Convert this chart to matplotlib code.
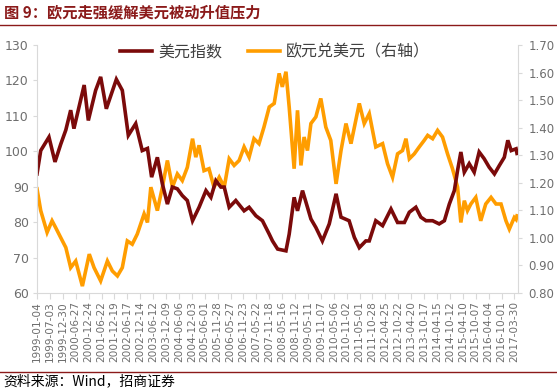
import matplotlib
matplotlib.use("Agg")
import matplotlib.pyplot as plt
import pandas as pd

plt.rcParams['font.family'] = ['Noto Sans CJK SC', 'DejaVu Sans']

# ---- data ----
dxy_dates = ["1999-01-04","1999-02-25","1999-06-20","1999-09-12","1999-12-01","2000-02-10",
    "2000-04-18","2000-06-02","2000-10-23","2000-12-20","2001-04-01","2001-06-10","2001-08-28",
    "2002-01-15","2002-04-08","2002-07-01","2002-10-12","2003-01-11","2003-03-25","2003-05-22",
    "2003-08-10","2003-10-19","2003-12-28","2004-03-07","2004-05-15","2004-07-23","2004-10-01",
    "2004-12-13","2005-03-14","2005-06-18","2005-08-26","2005-11-03","2006-01-12","2006-02-28",
    "2006-05-08","2006-08-08","2006-12-02","2007-02-10","2007-05-16","2007-08-15","2007-11-18",
    "2008-01-02","2008-03-14","2008-07-08","2008-08-22","2008-10-30","2008-12-16","2009-02-24",
    "2009-05-04","2009-06-21","2009-08-29","2009-11-28","2010-03-04","2010-06-07","2010-08-15",
    "2010-12-06","2011-02-17","2011-04-27","2011-07-27","2011-09-13","2011-12-13","2012-03-17",
    "2012-07-12","2012-10-12","2013-01-15","2013-03-25","2013-06-24","2013-09-02","2013-11-13",
    "2014-02-13","2014-05-15","2014-07-27","2014-10-04","2014-12-13","2015-01-27","2015-03-14",
    "2015-05-01","2015-07-08","2015-09-16","2015-11-24","2016-02-02","2016-04-12","2016-06-24",
    "2016-09-01","2016-11-09","2016-12-28","2017-02-13","2017-04-22","2017-05-05"]
dxy_values = [93.6,100.2,104.0,97.0,102.0,106.0,
    111.6,106.4,118.7,108.7,117.2,121.0,112.0,
    120.3,117.2,104.5,107.8,100.2,100.8,92.7,
    98.3,90.8,85.1,89.9,89.4,87.5,86.1,
    80.4,84.2,88.9,87.0,91.7,89.9,89.9,
    84.2,86.1,83.2,84.2,81.8,80.4,76.6,
    74.7,72.4,71.9,76.6,87.0,83.2,88.9,
    84.2,80.9,78.5,74.7,79.5,88.0,81.4,
    80.4,75.7,72.8,74.7,74.7,80.4,79.0,
    83.7,79.9,79.9,82.8,84.2,81.4,80.4,
    80.4,79.5,80.4,85.1,88.9,94.6,99.8,
    94.1,96.5,94.1,99.8,97.9,95.5,93.6,
    96.0,98.3,103.1,100.2,100.7,99.4]

eur_dates = ["1999-01-04","1999-02-25","1999-05-25","1999-08-02","1999-09-20","1999-12-01",
    "2000-02-10","2000-04-18","2000-06-27","2000-09-28","2001-01-02","2001-03-10","2001-06-10",
    "2001-09-12","2001-11-20","2002-01-30","2002-04-08","2002-06-17","2002-08-25","2002-11-03",
    "2003-02-06","2003-03-25","2003-05-11","2003-08-10","2003-10-19","2003-12-28","2004-03-07",
    "2004-05-15","2004-07-23","2004-10-01","2004-12-13","2005-01-27","2005-03-14","2005-05-22",
    "2005-07-30","2005-10-08","2005-12-20","2006-02-28","2006-05-08","2006-07-16","2006-09-24",
    "2006-12-02","2007-02-10","2007-04-19","2007-06-28","2007-09-05","2007-11-18","2008-01-26",
    "2008-04-04","2008-05-18","2008-07-08","2008-08-22","2008-10-30","2008-12-16","2009-02-02",
    "2009-03-18","2009-05-04","2009-06-21","2009-08-29","2009-11-06","2010-01-15","2010-03-25",
    "2010-06-07","2010-08-15","2010-10-23","2011-01-01","2011-04-27","2011-07-05","2011-09-13",
    "2011-12-13","2012-03-17","2012-05-25","2012-08-03","2012-10-12","2012-12-20","2013-02-06",
    "2013-03-25","2013-06-02","2013-08-10","2013-10-19","2013-12-06","2014-02-13","2014-04-23",
    "2014-07-01","2014-09-09","2014-11-17","2015-01-27","2015-03-14","2015-05-01","2015-06-14",
    "2015-07-31","2015-10-08","2015-12-16","2016-02-24","2016-05-08","2016-07-16","2016-09-24",
    "2016-12-02","2017-01-18","2017-03-28","2017-04-22","2017-05-05"]
eur_values = [1.178,1.099,1.020,1.062,1.038,1.001,
    0.965,0.892,0.916,0.825,0.941,0.892,0.844,
    0.916,0.880,0.862,0.892,0.989,0.977,1.014,
    1.087,1.056,1.184,1.099,1.184,1.281,1.184,
    1.232,1.208,1.256,1.360,1.293,1.336,1.244,
    1.251,1.184,1.220,1.184,1.287,1.263,1.281,
    1.330,1.293,1.360,1.342,1.402,1.475,1.488,
    1.597,1.548,1.603,1.475,1.251,1.463,1.263,
    1.366,1.317,1.415,1.439,1.506,1.402,1.354,
    1.196,1.317,1.415,1.342,1.488,1.415,1.451,
    1.330,1.342,1.269,1.220,1.305,1.317,1.360,
    1.287,1.305,1.330,1.354,1.372,1.360,1.390,
    1.366,1.305,1.251,1.184,1.056,1.135,1.099,
    1.123,1.147,1.062,1.123,1.147,1.123,1.123,
    1.062,1.032,1.074,1.067,1.080]

title_text = "图 9：欧元走强缓解美元被动升值压力"
source_text = "资料来源：Wind，招商证券"
label_dxy = "美元指数"
label_eur = "欧元兑美元（右轴）"
left_ticks = [60, 70, 80, 90, 100, 110, 120, 130]
right_ticks = [0.80, 0.90, 1.00, 1.10, 1.20, 1.30, 1.40, 1.50, 1.60, 1.70]

# ---- figure ----
W, H = 557, 390
fig = plt.figure(figsize=(W / 100, H / 100), dpi=100)
fig.patch.set_facecolor("white")

ax = fig.add_axes([37 / W, (H - 293) / H, (517.5 - 37) / W, (293 - 45) / H])
ax2 = ax.twinx()

c_dxy = "#7B0A0A"
c_eur = "#FF9D00"
grey = "#D9D9D9"
tcol = "#6E6E6E"

d1 = pd.to_datetime(dxy_dates)
d2 = pd.to_datetime(eur_dates)
l1, = ax.plot(d1, dxy_values, color=c_dxy, lw=2.6, solid_joinstyle="miter")
l2, = ax2.plot(d2, eur_values, color=c_eur, lw=2.6, solid_joinstyle="miter")
ax.set_zorder(ax2.get_zorder() + 1)
ax.patch.set_visible(False)

ax.set_ylim(60, 130)
ax2.set_ylim(0.80, 1.70)
ax.set_yticks(left_ticks)
ax.set_yticklabels([str(v) for v in left_ticks])
ax2.set_yticks(right_ticks)
ax2.set_yticklabels([f"{v:.2f}" for v in right_ticks])

start = pd.Timestamp("1999-01-04")
ax.set_xlim(start, pd.Timestamp("2017-05-12"))
xt = pd.date_range(start, "2017-03-30", freq="180D")
ax.set_xticks(xt)
ax.set_xticklabels([d.strftime("%Y-%m-%d") for d in xt], rotation=90)

for a in (ax, ax2):
    for s in a.spines.values():
        s.set_visible(False)
ax.spines["left"].set_visible(True)
ax.spines["left"].set_color(grey)
ax.spines["bottom"].set_visible(True)
ax.spines["bottom"].set_color(grey)
ax2.spines["right"].set_visible(True)
ax2.spines["right"].set_color(grey)

ax.tick_params(axis="y", colors=grey, labelcolor=tcol, labelsize=9, length=3, pad=3)
ax.tick_params(axis="x", colors=grey, labelcolor=tcol, labelsize=7.6, length=4, pad=2)
ax2.tick_params(axis="y", colors=grey, labelcolor=tcol, labelsize=8.5, length=3, pad=5)
for lab in ax.get_xticklabels():
    lab.set_family("DejaVu Sans")
for lab in ax.get_yticklabels() + ax2.get_yticklabels():
    lab.set_family("DejaVu Sans")

leg = ax.legend([l1, l2], [label_dxy, label_eur], loc="upper center",
                bbox_to_anchor=(0.495, 1.065), ncol=2, frameon=False,
                fontsize=11.5, handlelength=2.0, columnspacing=1.6, handletextpad=0.4)
for t in leg.get_texts():
    t.set_color("#404040")

# title and footer
fig.text(4 / W, 1 - 12 / H, title_text, color="#8B1A1A", fontsize=11,
         fontweight="bold", va="center", ha="left")
fig.add_artist(plt.Line2D([0, 1], [1 - 25 / H, 1 - 25 / H], color="#8B1A1A", lw=1.0))
fig.add_artist(plt.Line2D([0, 1], [1 - 372 / H, 1 - 372 / H], color="#8B1A1A", lw=1.0))
fig.text(3 / W, 1 - 381 / H, source_text, color="#000000", fontsize=10,
         va="center", ha="left")

fig.savefig("out.png", dpi=100, facecolor="white")
